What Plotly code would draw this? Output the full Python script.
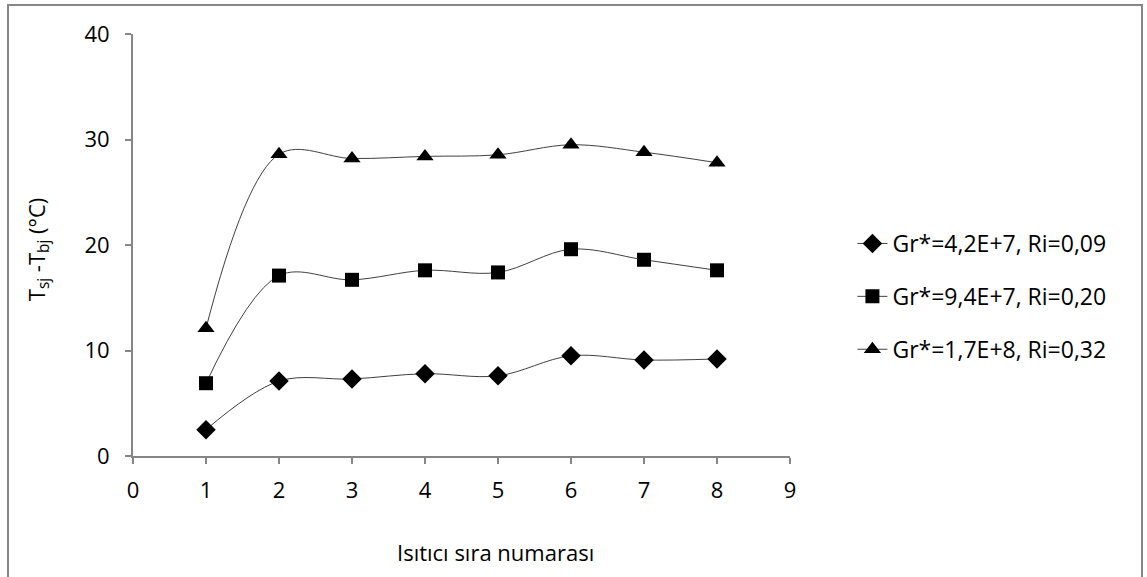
import plotly.graph_objects as go

heater = [1, 2, 3, 4, 5, 6, 7, 8]
s1_name = "Gr*=4,2E+7, Ri=0,09"
s1 = [2.5, 7.1, 7.3, 7.8, 7.6, 9.5, 9.1, 9.2]
s2_name = "Gr*=9,4E+7, Ri=0,20"
s2 = [6.9, 17.1, 16.7, 17.6, 17.4, 19.6, 18.6, 17.6]
s3_name = "Gr*=1,7E+8, Ri=0,32"
s3 = [12.1, 28.6, 28.2, 28.4, 28.55, 29.5, 28.8, 27.8]

x_ticks = [0, 1, 2, 3, 4, 5, 6, 7, 8, 9]
y_ticks = [0, 10, 20, 30, 40]

FONT = "'Open Sans', sans-serif"
AX = "#868686"
FS = 22

fig = go.Figure()
for name, ys, sym, size, grp in [
    (s1_name, s1, "diamond", 15, "a"),
    (s2_name, s2, "square", 14, "b"),
    (s3_name, s3, "triangle-up", 15, "c"),
]:
    fig.add_trace(go.Scatter(
        x=heater, y=ys, name=name, legendgroup=grp,
        mode="lines+markers",
        line=dict(color="#404040", width=1, shape="spline", smoothing=1.0),
        marker=dict(symbol=sym, size=size, color="black", line=dict(width=0)),
    ))

fig.update_layout(
    width=1147, height=577,
    margin=dict(l=133, r=357, t=34, b=121),
    paper_bgcolor="white", plot_bgcolor="white",
    font=dict(family=FONT, size=FS, color="black"),
    showlegend=True,
    legend=dict(x=1.095, y=0.5545, xanchor="left", yanchor="top",
                tracegroupgap=20, font=dict(size=23), bgcolor="rgba(0,0,0,0)"),
    xaxis=dict(range=[0, 9], tickvals=x_ticks, showgrid=False, zeroline=False,
               showline=True, linecolor=AX, linewidth=2, ticks="outside",
               ticklen=6, tickwidth=2, tickcolor=AX, ticklabelstandoff=8,
               tickfont=dict(size=FS)),
    yaxis=dict(range=[0, 40], tickvals=y_ticks, showgrid=False, zeroline=False,
               showline=True, linecolor=AX, linewidth=2, ticks="outside",
               ticklen=6, tickwidth=2, tickcolor=AX, ticklabelstandoff=11,
               tickfont=dict(size=FS)),
    annotations=[
        dict(text="Isıtıcı sıra numarası", xref="paper", yref="paper",
             x=0.5525, y=-0.2275, showarrow=False, font=dict(size=FS),
             xanchor="center", yanchor="middle"),
        dict(text="T<sub>sj</sub> -T<sub>bj</sub> (°C)", xref="paper", yref="paper",
             x=-0.1446, y=0.49, showarrow=False, textangle=-90, font=dict(size=FS),
             xanchor="center", yanchor="middle"),
    ],
    shapes=[dict(type="rect", xref="paper", yref="paper",
                 x0=(8 - 133) / 657, x1=(1142 - 133) / 657,
                 y0=(456 - 590) / 422, y1=(456 - 5) / 422,
                 line=dict(color=AX, width=2), layer="below")],
)

fig.write_html("out.html", config={"displayModeBar": False},
               post_script="document.body.style.margin='0';document.body.style.overflow='hidden';")
